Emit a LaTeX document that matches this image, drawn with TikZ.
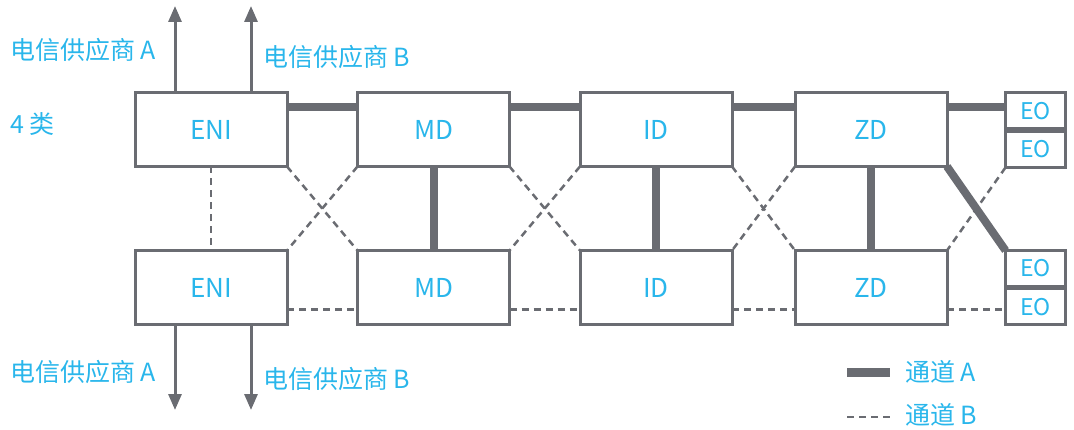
\documentclass[tikz,border=0pt]{standalone}
\usepackage{fontspec}
\setmainfont{Noto Sans CJK SC}
\usetikzlibrary{arrows.meta,calc,backgrounds}
\definecolor{lg}{RGB}{106,108,114}
\definecolor{tc}{RGB}{41,182,235}
\begin{document}
\begin{tikzpicture}[x=1pt,y=-1pt,
  box/.style={draw=lg,line width=3pt,fill=white,minimum width=152pt,minimum height=74pt,inner sep=0pt,outer sep=0pt,text=tc,font=\fontsize{26}{28}\selectfont},
  eobox/.style={draw=lg,line width=3pt,fill=white,minimum width=60pt,minimum height=36pt,inner sep=0pt,outer sep=0pt,text=tc,font=\fontsize{23}{25}\selectfont},
  chanA/.style={draw=lg,line width=8pt},
  chanB/.style={draw=lg,line width=2.5pt,dash pattern=on 7pt off 5pt},
  feed/.style={draw=lg,line width=3pt,-{Triangle[length=16pt,width=13pt]}},
  lbl/.style={text=tc,anchor=west,inner sep=0pt,font=\fontsize{25}{27}\selectfont}]
\useasboundingbox (0,0) rectangle (1074,430);
% boxes
\node[box] (eniT) at (211,129.5) {ENI};
\node[box] (mdT) at (433.5,129.5) {MD};
\node[box] (idT) at (656,129.5) {ID};
\node[box] (zdT) at (871,129.5) {ZD};
\node[box] (eniB) at (211,287.5) {ENI};
\node[box] (mdB) at (433.5,287.5) {MD};
\node[box] (idB) at (656,287.5) {ID};
\node[box] (zdB) at (871,287.5) {ZD};
\node[eobox] (eo1) at (1035.5,111) {EO};
\node[eobox] (eo2) at (1035.5,149.5) {EO};
\node[eobox] (eo3) at (1035.5,268.5) {EO};
\node[eobox] (eo4) at (1035.5,307) {EO};
% helper coordinates
\coordinate (h1) at ([yshift=-15pt]eniT.north east);
\coordinate (h2) at ([yshift=-15pt]mdT.north east);
\coordinate (h3) at ([yshift=-15pt]idT.north east);
\coordinate (h4) at ([yshift=-15pt]zdT.north east);
\coordinate (b1) at ([yshift=15pt]eniB.south east);
\coordinate (b2) at ([yshift=15pt]mdB.south east);
\coordinate (b3) at ([yshift=15pt]idB.south east);
\coordinate (b4) at ([yshift=15pt]zdB.south east);
\begin{scope}[on background layer]
% channel A
\draw[chanA] (h1) -- (h1 -| mdT.west);
\draw[chanA] (h2) -- (h2 -| idT.west);
\draw[chanA] (h3) -- (h3 -| zdT.west);
\draw[chanA] (h4) -- (h4 -| eo1.west);
\draw[chanA] (mdT.south) -- (mdB.north);
\draw[chanA] (idT.south) -- (idB.north);
\draw[chanA] (zdT.south) -- (zdB.north);
\draw[chanA] (zdT.south east) -- (eo3.north west);
% channel B
\draw[chanB] (eniT.south) -- (eniB.north);
\draw[chanB] (eniT.south east) -- (mdB.north west);
\draw[chanB] (mdT.south west) -- (eniB.north east);
\draw[chanB] (mdT.south east) -- (idB.north west);
\draw[chanB] (idT.south west) -- (mdB.north east);
\draw[chanB] (idT.south east) -- (zdB.north west);
\draw[chanB] (zdT.south west) -- (idB.north east);
\draw[chanB] (eo2.south west) -- (zdB.north east);
\draw[chanB] (b1) -- (b1 -| mdB.west);
\draw[chanB] (b2) -- (b2 -| idB.west);
\draw[chanB] (b3) -- (b3 -| zdB.west);
\draw[chanB] (b4) -- (b4 -| eo4.west);
\end{scope}
% feeds
\coordinate (ua) at (175,6);
\coordinate (ub) at (251,6);
\coordinate (da) at (175,410);
\coordinate (db) at (251,410);
\draw[feed] (eniT.north -| ua) -- (ua);
\draw[feed] (eniT.north -| ub) -- (ub);
\draw[feed] (eniB.south -| da) -- (da);
\draw[feed] (eniB.south -| db) -- (db);
% labels
\node[lbl] (la1) at (10,50) {电信供应商 A};
\node[lbl] (lb1) at (263,57) {电信供应商 B};
\node[lbl] (la2) at (10,372) {电信供应商 A};
\node[lbl] (lb2) at (263,379) {电信供应商 B};
\node[lbl] (cat) at (10,124) {4 类};
% legend
\coordinate (lA1) at (847,373);
\coordinate (lA2) at (890,373);
\coordinate (lB1) at (847,417);
\coordinate (lB2) at (890,417);
\draw[draw=lg,line width=9pt] (lA1) -- (lA2);
\draw[chanB] (lB1) -- (lB2);
\node[lbl] (legA) at (905,372) {通道 A};
\node[lbl] (legB) at (905,415) {通道 B};
\end{tikzpicture}
\end{document}
